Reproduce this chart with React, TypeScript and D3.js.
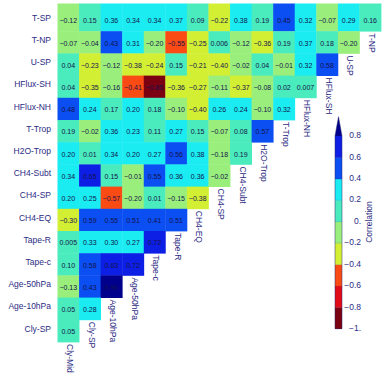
import React from "react";
import * as d3 from "d3";

// Variables in display order: rows top→bottom, columns left→right
const rowNames = [
  "T-SP", "T-NP", "U-SP", "HFlux-SH", "HFlux-NH", "T-Trop", "H2O-Trop", "CH4-Subt",
  "CH4-SP", "CH4-EQ", "Tape-R", "Tape-c", "Age-50hPa", "Age-10hPa", "Cly-SP",
];
const colNames = [
  "Cly-Mid", "Cly-SP", "Age-10hPa", "Age-50hPa", "Tape-c", "Tape-R", "CH4-EQ", "CH4-SP",
  "CH4-Subt", "H2O-Trop", "T-Trop", "HFlux-NH", "HFlux-SH", "U-SP", "T-NP",
];

// Correlation coefficients, one array per row (starting from the Cly-Mid column)
const corrTSP = [-0.12, 0.15, 0.36, 0.34, 0.34, 0.37, 0.09, -0.22, 0.38, 0.19, 0.45, 0.32, -0.07, 0.29, 0.16];
const corrTNP = [-0.07, -0.04, 0.43, 0.31, -0.2, -0.55, -0.25, 0.006, -0.12, -0.36, 0.19, 0.37, 0.18, -0.2];
const corrUSP = [0.04, -0.23, -0.12, -0.38, -0.24, 0.15, -0.21, -0.4, -0.02, 0.04, -0.01, 0.32, 0.58];
const corrHFluxSH = [0.04, -0.35, -0.16, -0.41, -0.85, -0.36, -0.27, -0.11, -0.37, -0.08, 0.02, 0.007];
const corrHFluxNH = [0.48, 0.24, 0.17, 0.2, 0.18, -0.1, -0.4, 0.26, 0.24, -0.1, 0.32];
const corrTTrop = [0.19, -0.02, 0.36, 0.23, 0.11, 0.27, 0.15, -0.07, 0.08, 0.57];
const corrH2OTrop = [0.2, 0.01, 0.34, 0.2, 0.27, 0.56, 0.38, -0.18, 0.19];
const corrCH4Subt = [0.34, 0.65, 0.15, -0.01, 0.55, 0.36, 0.36, -0.02];
const corrCH4SP = [0.2, 0.25, -0.57, -0.2, 0.01, -0.15, -0.38];
const corrCH4EQ = [-0.3, 0.59, 0.55, 0.51, 0.41, 0.51];
const corrTapeR = [0.005, 0.33, 0.3, 0.27, 0.72];
const corrTapec = [0.1, 0.58, 0.63, 0.72];
const corrAge50 = [-0.13, 0.43, 0.9];
const corrAge10 = [0.05, 0.28];
const corrClySP = [0.05];

const rowValues = [
  corrTSP, corrTNP, corrUSP, corrHFluxSH, corrHFluxNH, corrTTrop, corrH2OTrop, corrCH4Subt,
  corrCH4SP, corrCH4EQ, corrTapeR, corrTapec, corrAge50, corrAge10, corrClySP,
];

// Colour legend levels
const levels = [-1, -0.8, -0.6, -0.4, -0.2, 0, 0.2, 0.4, 0.6, 0.8];
const levelColors = [
  "#7a0012", "#e20c18", "#fb4b14", "#d3ef34", "#9aef7c",
  "#4aebbd", "#1aecf2", "#0b4ef2", "#0d1fe4", "#00008c",
];
const legendTicks = [0.8, 0.6, 0.4, 0.2, 0, -0.2, -0.4, -0.6, -0.8, -1];

const color = d3.scaleThreshold<number, string>()
  .domain(levels.slice(1))
  .range(levelColors);

const fmtValue = (v: number) => {
  const s = v !== 0 && Math.abs(v) < 0.01 ? v.toFixed(3) : v.toFixed(2);
  return s.replace("-", "\u2212");
};
const fmtTick = (v: number) => {
  const s = Number.isInteger(v) ? `${v}.` : `${v}`;
  return s.replace("-", "\u2212");
};

const FONT = "'Liberation Sans', Arial, sans-serif";
const LABEL = "#2c2c84";
const VALUE = "#14144c";

export default function App() {
  const W = 383;
  const H = 382;
  const x = d3.scaleBand<string>().domain(colNames).range([57.5, 381]);
  const y = d3.scaleBand<string>().domain(rowNames).range([9, 342]);
  const bw = x.bandwidth();
  const bh = y.bandwidth();
  const gridTop = 3.5;

  const cb = d3.scaleLinear().domain([-1, 0.8]).range([328.7, 136]);
  const cbX = 335;
  const cbW = 7;

  return (
    <svg
      width={W}
      height={H}
      style={{ position: "absolute", left: 0, top: 0, background: "#fff" }}
      fontFamily={FONT}
    >
      {/* matrix cells */}
      {rowValues.map((vals, i) =>
        vals.map((v, j) => {
          const top = i === 0 ? gridTop : (y(rowNames[i]) as number);
          const bottom = (y(rowNames[i]) as number) + bh;
          return (
            <rect
              key={`c${i}-${j}`}
              x={x(colNames[j])}
              y={top}
              width={bw + 0.4}
              height={bottom - top + 0.4}
              fill={color(v)}
            />
          );
        })
      )}
      {/* cell values */}
      {rowValues.map((vals, i) =>
        vals.map((v, j) => (
          <text
            key={`t${i}-${j}`}
            x={(x(colNames[j]) as number) + bw / 2}
            y={(y(rowNames[i]) as number) + bh / 2 + 1.5}
            fontSize={7}
            textAnchor="middle"
            dominantBaseline="middle"
            fill={VALUE}
          >
            {fmtValue(v)}
          </text>
        ))
      )}
      {/* row labels */}
      {rowNames.map((r) => (
        <text
          key={`r${r}`}
          x={51}
          y={(y(r) as number) + bh / 2 - 1.5}
          fontSize={8.5}
          textAnchor="end"
          dominantBaseline="middle"
          fill={LABEL}
        >
          {r}
        </text>
      ))}
      {/* column labels along the diagonal */}
      {colNames.map((c, j) => {
        const cx = (x(c) as number) + bw / 2 + 1;
        const rowIdx = 15 - j;
        const top = 9 + rowIdx * bh + 2;
        return (
          <text
            key={`col${c}`}
            transform={`translate(${cx},${top}) rotate(90)`}
            fontSize={8.5}
            textAnchor="start"
            dominantBaseline="middle"
            fill={LABEL}
          >
            {c}
          </text>
        );
      })}
      {/* colour legend */}
      {levels.map((lv, k) => {
        if (k === levels.length - 1) return null;
        const y0 = cb(levels[k + 1]);
        const y1 = cb(lv);
        return (
          <rect
            key={`lg${k}`}
            x={cbX}
            y={y0}
            width={cbW}
            height={y1 - y0 + 0.3}
            fill={levelColors[k]}
          />
        );
      })}
      <path
        d={`M${cbX},${cb(0.8)}L${cbX + cbW / 2},${116.7}L${cbX + cbW},${cb(0.8)}Z`}
        fill={levelColors[levelColors.length - 1]}
      />
      <path
        d={`M${cbX},${cb(0.8)}L${cbX + cbW / 2},${116.7}L${cbX + cbW},${cb(0.8)}L${cbX + cbW},${cb(-1)}L${cbX},${cb(-1)}Z`}
        fill="none"
        stroke="#2a2a6a"
        strokeWidth={0.5}
      />
      {levels.slice(1, -1).map((lv) => (
        <line
          key={`sep${lv}`}
          x1={cbX}
          x2={cbX + cbW}
          y1={cb(lv)}
          y2={cb(lv)}
          stroke="#2a2a6a"
          strokeOpacity={0.35}
          strokeWidth={0.4}
        />
      ))}
      {legendTicks.map((t) => (
        <text
          key={`lt${t}`}
          x={361}
          y={cb(t)}
          fontSize={8.5}
          textAnchor="end"
          dominantBaseline="middle"
          fill={LABEL}
        >
          {fmtTick(t)}
        </text>
      ))}
      <text
        transform={`translate(370,222) rotate(-90)`}
        fontSize={8.5}
        textAnchor="middle"
        dominantBaseline="middle"
        fill={LABEL}
      >
        Correlation
      </text>
    </svg>
  );
}
